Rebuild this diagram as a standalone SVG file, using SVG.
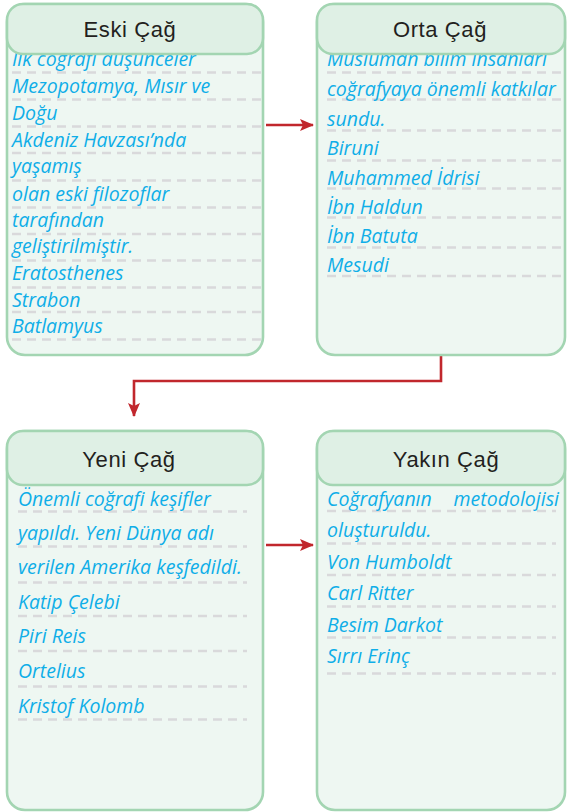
<svg xmlns="http://www.w3.org/2000/svg" width="567" height="812" viewBox="0 0 567 812">
<style>
.box{fill:#EEF7F2;stroke:#A3D5B2;stroke-width:2.6}
.hdr{fill:#DFF0E5;stroke:#A3D5B2;stroke-width:2.6}
.ht{font-family:"Liberation Sans",Arial,sans-serif;font-size:22px;letter-spacing:0.6px;fill:#231F20;text-anchor:middle}
.t{font-family:"Open Sans","Noto Sans",sans-serif;font-style:italic;font-size:19.5px;fill:#0FAEE8}
.d{stroke:#D9D9DB;stroke-width:2.5;stroke-dasharray:9 6;fill:none}
.c{stroke:#C1272D;stroke-width:2.6;fill:none}
</style>
<defs>
<marker id="ah" viewBox="0 0 14 12" refX="13" refY="6" markerWidth="14" markerHeight="12" markerUnits="userSpaceOnUse" orient="auto">
<path d="M0,0 L14,6 L0,12 L3,6 Z" fill="#C1272D"/>
</marker>
</defs>

<g id="connectors">
<path class="c" d="M266,125 H313" marker-end="url(#ah)"/>
<path class="c" d="M266,545 H313" marker-end="url(#ah)"/>
<path class="c" d="M441,356 V381 H134 V416" marker-end="url(#ah)"/>
</g>

<g id="eski">
<rect class="box" x="7" y="4" width="256" height="351" rx="18"/>
<path class="d" d="M12,72.5H261M12,99.5H261M12,126.5H261M12,153H261M12,180.5H261M12,207.5H261M12,234H261M12,260.5H261M12,287.5H261M12,312H261M12,339.5H261"/>
<text class="t" x="12" y="65.5">İlk coğrafi düşünceler</text>
<text class="t" x="12" y="92.5">Mezopotamya, Mısır ve</text>
<text class="t" x="12" y="119.5">Doğu</text>
<text class="t" x="12" y="146.5">Akdeniz Havzası’nda</text>
<text class="t" x="12" y="173">yaşamış</text>
<text class="t" x="12" y="200.5">olan eski filozoflar</text>
<text class="t" x="12" y="226.7">tarafından</text>
<text class="t" x="12" y="253">geliştirilmiştir.</text>
<text class="t" x="12" y="280">Eratosthenes</text>
<text class="t" x="12" y="306.5">Strabon</text>
<text class="t" x="12" y="333">Batlamyus</text>
<rect class="hdr" x="7" y="4" width="256" height="50" rx="16"/>
<text class="ht" x="130" y="37">Eski Çağ</text>
</g>

<g id="orta">
<rect class="box" x="317" y="4" width="248" height="351" rx="18"/>
<path class="d" d="M327,72.5H567M327,99.5H567M327,130.5H567M327,160.5H567M327,188.5H567M327,217.5H567M327,247.5H567M327,276H567"/>
<text class="t" x="327" y="65.5">Müslüman bilim insanları</text>
<text class="t" x="327" y="95.5">coğrafyaya önemli katkılar</text>
<text class="t" x="327" y="125.5">sundu.</text>
<text class="t" x="327" y="155">Biruni</text>
<text class="t" x="327" y="184.5">Muhammed İdrisi</text>
<text class="t" x="327" y="214">İbn Haldun</text>
<text class="t" x="327" y="243">İbn Batuta</text>
<text class="t" x="327" y="272">Mesudi</text>
<rect class="hdr" x="317" y="4" width="248" height="50" rx="16"/>
<text class="ht" x="440" y="37">Orta Çağ</text>
</g>

<g id="yeni">
<rect class="box" x="7" y="431" width="256" height="379" rx="18"/>
<path class="d" d="M18,511.5H247M18,546.5H247M18,582.5H247M18,616H247M18,651H247M18,686.5H247M18,719.5H247"/>
<text class="t" x="18" y="506">Önemli coğrafi keşifler</text>
<text class="t" x="18" y="539.5">yapıldı. Yeni Dünya adı</text>
<text class="t" x="18" y="574">verilen Amerika keşfedildi.</text>
<text class="t" x="18" y="608.5">Katip Çelebi</text>
<text class="t" x="18" y="643">Piri Reis</text>
<text class="t" x="18" y="678">Ortelius</text>
<text class="t" x="18" y="713">Kristof Kolomb</text>
<rect class="hdr" x="7" y="431" width="256" height="54" rx="16"/>
<text class="ht" x="129" y="467">Yeni Çağ</text>
</g>

<g id="yakin">
<rect class="box" x="317" y="431" width="248" height="379" rx="18"/>
<path class="d" d="M327,511H556M327,543.5H556M327,575H556M327,606.5H556M327,637.5H556M327,673.5H556"/>
<text class="t" x="327" y="505.5">Coğrafyanın</text>
<text class="t" x="559" y="505.5" text-anchor="end">metodolojisi</text>
<text class="t" x="327" y="537">oluşturuldu.</text>
<text class="t" x="327" y="568.5">Von Humboldt</text>
<text class="t" x="327" y="600">Carl Ritter</text>
<text class="t" x="327" y="632">Besim Darkot</text>
<text class="t" x="327" y="663">Sırrı Erinç</text>
<rect class="hdr" x="317" y="431" width="248" height="54" rx="16"/>
<text class="ht" x="446" y="467">Yakın Çağ</text>
</g>
</svg>
